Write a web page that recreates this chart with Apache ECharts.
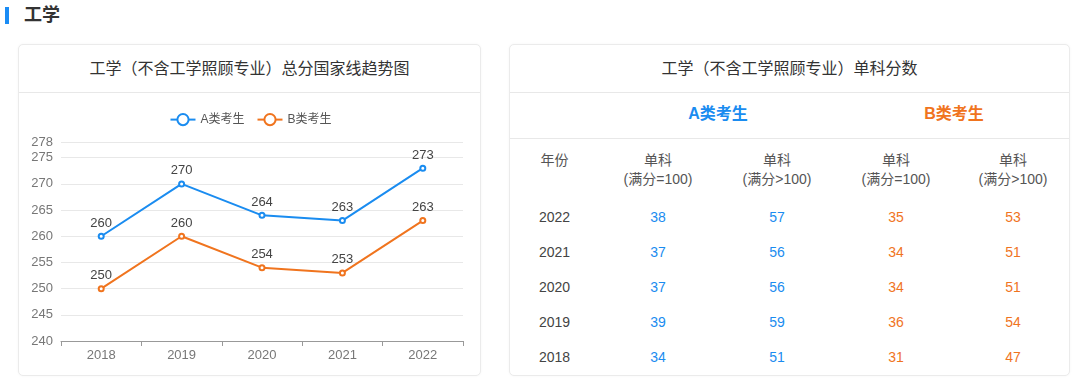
<!DOCTYPE html>
<html>
<head>
<meta charset="utf-8">
<script src="https://cdn.jsdelivr.net/npm/echarts@6/dist/echarts.min.js"></script>
<style>
  html, body { margin: 0; padding: 0; background: #fff; width: 1080px; height: 384px; overflow: hidden;
    font-family: "Liberation Sans", Arial, "Noto Sans CJK SC", sans-serif; }
  .bar { position: absolute; left: 5px; top: 7px; width: 4px; height: 17px; background: #1a8cf5; }
  .h1 { position: absolute; left: 24px; top: 4px; font-size: 18px; font-weight: bold; color: #333; line-height: 22px; }
  .card { position: absolute; top: 44px; height: 332px; border: 1px solid #ebebeb; border-radius: 5px; box-sizing: border-box; background: #fff; box-shadow: 0 0 3px rgba(0,0,0,0.04); }
  .card .title { position: absolute; left: 0; right: 0; top: 0; height: 47px; line-height: 47px; text-align: center; font-size: 16px; color: #333; border-bottom: 1px solid #e8e8e8; }
  #chart { position: absolute; left: 0; top: 47px; width: 463px; height: 284px; }
  .cell { position: absolute; text-align: center; font-size: 14px; line-height: 18px; }
  .grp { position: absolute; text-align: center; font-size: 16px; font-weight: bold; line-height: 20px; }
  .sep { position: absolute; left: 0; right: 0; height: 1px; background: #e8e8e8; }
</style>
</head>
<body>
<div class="bar"></div>
<div class="h1">工学</div>

<div class="card" style="left:18px; width:463px;">
  <div class="title">工学（不含工学照顾专业）总分国家线趋势图</div>
  <div id="chart"></div>
</div>

<div class="card" id="tcard" style="left:509px; width:561px;">
  <div class="title">工学（不含工学照顾专业）单科分数</div>
</div>

<script>
// ---- data ----
const years = ['2018', '2019', '2020', '2021', '2022'];
const seriesA = [260, 270, 264, 263, 273];
const seriesB = [250, 260, 254, 253, 263];
const nameA = 'A类考生';
const nameB = 'B类考生';

const tableYears = ['2022', '2021', '2020', '2019', '2018'];
const aEq100 = [38, 37, 37, 39, 34];
const aGt100 = [57, 56, 56, 59, 51];
const bEq100 = [35, 34, 34, 36, 31];
const bGt100 = [53, 51, 51, 54, 47];
const colHeadLine1 = ['单科', '单科', '单科', '单科'];
const colHeadLine2 = ['(满分=100)', '(满分>100)', '(满分=100)', '(满分>100)'];

const BLUE = '#1a8cf0';
const ORANGE = '#f0741e';

// ---- chart ----
const chart = echarts.init(document.getElementById('chart'));
chart.setOption({
  animation: false,
  textStyle: { fontFamily: '"Liberation Sans", Arial, "Noto Sans CJK SC", sans-serif' },
  legend: {
    top: 16, left: 'center', itemWidth: 25, itemHeight: 14, itemGap: 12,
    textStyle: { color: '#555', fontSize: 12 },
    data: [nameA, nameB]
  },
  grid: { left: 42, right: 19, top: 50, bottom: 35, containLabel: false },
  xAxis: {
    type: 'category', data: years, boundaryGap: true,
    axisLine: { lineStyle: { color: '#999', width: 1 } },
    axisTick: { show: true, length: 5, lineStyle: { color: '#999' } },
    axisLabel: { color: '#777', fontSize: 13, margin: 8 }
  },
  yAxis: {
    type: 'value', min: 240, max: 278, interval: 5,
    axisLine: { show: false }, axisTick: { show: false },
    axisLabel: { color: '#777', fontSize: 13, margin: 8, showMaxLabel: true },
    splitLine: { lineStyle: { color: '#e8e8e8' } }
  },
  series: [
    { name: nameA, type: 'line', data: seriesA, color: BLUE, symbol: 'emptyCircle', symbolSize: 5,
      lineStyle: { width: 2, color: BLUE }, itemStyle: { color: BLUE, borderWidth: 1.5 },
      label: { show: true, position: 'top', distance: 3, color: '#444', fontSize: 13 } },
    { name: nameB, type: 'line', data: seriesB, color: ORANGE, symbol: 'emptyCircle', symbolSize: 5,
      lineStyle: { width: 2, color: ORANGE }, itemStyle: { color: ORANGE, borderWidth: 1.5 },
      label: { show: true, position: 'top', distance: 3, color: '#444', fontSize: 13 } }
  ]
});

// ---- table ----
const card = document.getElementById('tcard');
const colLeft = [0, 89, 207, 327, 445];
const colW = [89, 118, 120, 118, 116];
function addCell(cls, text, x, w, y, color) {
  const d = document.createElement('div');
  d.className = cls; d.textContent = text;
  d.style.left = x + 'px'; d.style.width = w + 'px'; d.style.top = y + 'px';
  d.style.color = color;
  card.appendChild(d);
}
// group header
addCell('grp', nameA, colLeft[1], colW[1] + colW[2], 59, BLUE);
addCell('grp', nameB, colLeft[3], colW[3] + colW[4], 59, ORANGE);
const s = document.createElement('div'); s.className = 'sep'; s.style.top = '93px'; card.appendChild(s);
// column header
addCell('cell', '年份', colLeft[0], colW[0], 106, '#555');
for (let i = 0; i < 4; i++) {
  addCell('cell', colHeadLine1[i], colLeft[i + 1], colW[i + 1], 106, '#555');
  addCell('cell', colHeadLine2[i], colLeft[i + 1], colW[i + 1], 125, '#555');
}
// rows
const cols = [aEq100, aGt100, bEq100, bGt100];
const colColors = [BLUE, BLUE, ORANGE, ORANGE];
for (let r = 0; r < tableYears.length; r++) {
  const y = 163 + r * 35;
  addCell('cell', tableYears[r], colLeft[0], colW[0], y, '#444');
  for (let c = 0; c < 4; c++) {
    addCell('cell', String(cols[c][r]), colLeft[c + 1], colW[c + 1], y, colColors[c]);
  }
}
</script>
</body>
</html>
